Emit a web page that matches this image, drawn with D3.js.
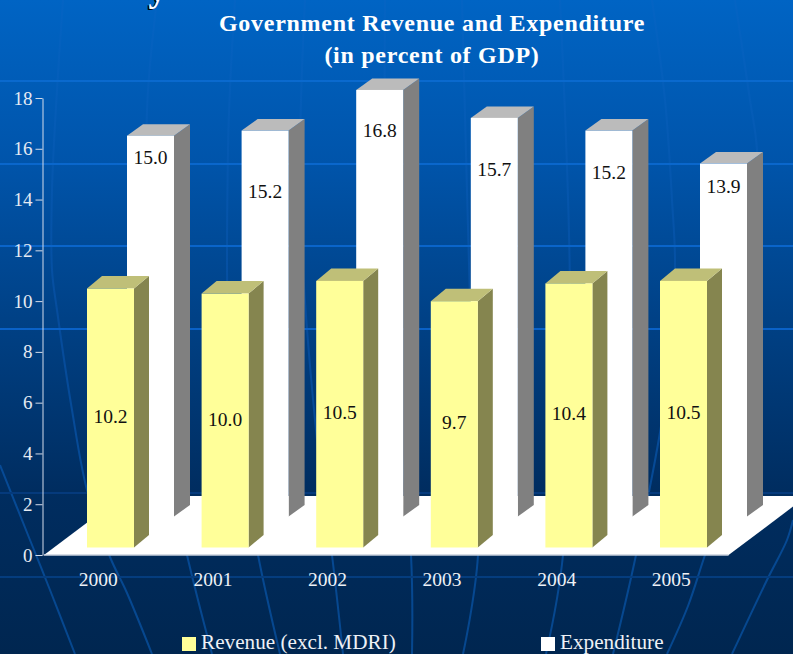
<!DOCTYPE html>
<html>
<head>
<meta charset="utf-8">
<script src="https://cdn.jsdelivr.net/npm/d3@7"></script>
<style>
  html, body { margin: 0; padding: 0; background: #002650; overflow: hidden; }
  text { font-family: "Liberation Serif", serif; }
</style>
</head>
<body>
<div id="chart"></div>
<script>
  const years = ['2000', '2001', '2002', '2003', '2004', '2005']
  const revenue = [10.2, 10.0, 10.5, 9.7, 10.4, 10.5]
  const expenditure = [15.0, 15.2, 16.8, 15.7, 15.2, 13.9]
  const yTicks = [0, 2, 4, 6, 8, 10, 12, 14, 16, 18]
  const titleLines = ['Government Revenue and Expenditure', '(in percent of GDP)']
  const legendLabels = ['Revenue (excl. MDRI)', 'Expenditure']
  // hand placed in the original, pixels below the top of each white bar
  const expLabelDrop = [28, 67, 47, 58, 48, 29]

  const width = 793
  const height = 654
  const BAR_W = 47
  const FLOOR_BACK = 496
  const REV = {dx: 46, lift: 7.5, depthX: 15, depthY: 12.5, front: '#ffff99', side: '#85854f', top: '#bfbf78'}
  const EXP = {dx: 86, lift: 38.5, depthX: 16, depthY: 11.5, front: '#ffffff', side: '#808080', top: '#bbbbbb'}

  const xScale = d3.scaleBand().domain(years).range([41, 728.6])
  const yScale = d3.scaleLinear().domain([0, 18]).range([555, 98])

  const svg = d3.select('#chart')
    .append('svg')
    .attr('width', width)
    .attr('height', height)
    .style('display', 'block')

  const defs = svg.append('defs')

  const bg = defs.append('linearGradient').attr('id', 'bg').attr('x1', 0).attr('x2', 0).attr('y1', 0).attr('y2', 1)
  bg.append('stop').attr('offset', '0%').attr('stop-color', '#0064c4')
  bg.append('stop').attr('offset', '25%').attr('stop-color', '#0054aa')
  bg.append('stop').attr('offset', '50%').attr('stop-color', '#004084')
  bg.append('stop').attr('offset', '75%').attr('stop-color', '#002d60')
  bg.append('stop').attr('offset', '100%').attr('stop-color', '#002650')

  const grid = defs.append('linearGradient').attr('id', 'grid')
    .attr('gradientUnits', 'userSpaceOnUse').attr('x1', 0).attr('x2', 0).attr('y1', 0).attr('y2', height)
  grid.append('stop').attr('offset', '0%').attr('stop-color', '#0a6cd0')
  grid.append('stop').attr('offset', '50%').attr('stop-color', '#0a62c8')
  grid.append('stop').attr('offset', '75%').attr('stop-color', '#053a7c')
  grid.append('stop').attr('offset', '100%').attr('stop-color', '#043f80')

  const merid = defs.append('linearGradient').attr('id', 'merid')
    .attr('gradientUnits', 'userSpaceOnUse').attr('x1', 0).attr('x2', 0).attr('y1', 0).attr('y2', height)
  merid.append('stop').attr('offset', '0%').attr('stop-color', '#0464c4')
  merid.append('stop').attr('offset', '50%').attr('stop-color', '#064c9c')
  merid.append('stop').attr('offset', '100%').attr('stop-color', '#06478e')

  svg.append('rect').attr('width', width).attr('height', height).attr('fill', 'url(#bg)')

  // backdrop: the globe grid of the slide template
  const backdropRows = [81, 164, 246, 329, 493, 577]
  const backdropCurves = [
    [[0, 465], [30, 540], [50, 590], [75, 654]],
    [[63, 0], [57, 90], [52, 190], [52, 270], [57, 310], [72, 410], [87, 490], [110, 557], [127, 593], [152, 654]],
    [[157, 0], [147, 110], [150, 300], [165, 450], [187, 555], [212, 654]],
    [[235, 0], [228, 150], [232, 400], [258, 555], [280, 654]],
    [[305, 0], [300, 200], [318, 450], [332, 555], [343, 654]],
    [[385, 0], [388, 300], [411, 555], [412, 654]],
    [[462, 0], [470, 300], [478, 555], [463, 654]],
    [[560, 0], [570, 300], [563, 555], [546, 654]],
    [[652, 0], [665, 100], [672, 200], [675, 270], [665, 400], [636, 555], [613, 654]],
    [[735, 0], [750, 100], [757, 150], [755, 300], [735, 470], [705, 555], [688, 606], [667, 654]],
    [[793, 520], [787, 540], [767, 580], [732, 654]]
  ]
  const curveLine = d3.line().curve(d3.curveCatmullRom)

  svg.selectAll('path.merid')
    .data(backdropCurves)
    .enter()
    .append('path')
    .attr('class', 'merid')
    .attr('d', curveLine)
    .attr('fill', 'none')
    .attr('stroke', 'url(#merid)')
    .attr('stroke-width', 2)

  svg.selectAll('rect.row')
    .data(backdropRows)
    .enter()
    .append('rect')
    .attr('class', 'row')
    .attr('x', 0).attr('width', width)
    .attr('y', d => d - 1).attr('height', 2)
    .attr('fill', 'url(#grid)')

  // tail of the slide heading, cut off by the top of the page
  svg.append('text').text('y').attr('x', 147).attr('y', 2).attr('font-size', 36).attr('font-weight', 'bold').attr('fill', '#000')
  svg.append('text').text('y').attr('x', 148.5).attr('y', 0.5).attr('font-size', 36).attr('font-weight', 'bold').attr('fill', '#fff')

  svg.selectAll('text.title')
    .data(titleLines)
    .enter()
    .append('text')
    .attr('class', 'title')
    .text(d => d)
    .attr('x', 432)
    .attr('y', (d, i) => 31 + i * 32)
    .attr('text-anchor', 'middle')
    .attr('font-size', 24)
    .attr('font-weight', 'bold')
    .attr('letter-spacing', 0.72)
    .attr('fill', '#fff')

  // floor
  const floorShift = (yScale(0) - FLOOR_BACK) * 1.33
  const [x0, x1] = xScale.range()
  svg.append('path')
    .attr('d', d3.line()([
      [x0 + 3, yScale(0)], [x0 + 3 + floorShift, FLOOR_BACK], [x1 + floorShift, FLOOR_BACK], [x1, yScale(0)]
    ]) + 'Z')
    .attr('fill', '#fff')
  svg.append('line')
    .attr('x1', x0 + 3).attr('x2', x1).attr('y1', yScale(0)).attr('y2', yScale(0))
    .attr('stroke', '#c8d0dc').attr('stroke-width', 1.5)

  const yAxis = d3.axisLeft(yScale).tickValues(yTicks).tickSize(7).tickSizeOuter(0).tickPadding(3)
  const axisG = svg.append('g')
    .attr('transform', 'translate(42.5, 0)')
    .call(yAxis)
  axisG.selectAll('path, line').attr('stroke', '#d4dcea').attr('stroke-width', 1)
  axisG.selectAll('text').attr('font-size', 19).attr('font-family', '"Liberation Serif", serif').attr('fill', '#e6ebf3')

  svg.selectAll('text.year')
    .data(years)
    .enter()
    .append('text')
    .attr('class', 'year')
    .text(d => d)
    .attr('x', d => xScale(d) + xScale.bandwidth() / 2)
    .attr('y', 586)
    .attr('text-anchor', 'middle')
    .attr('font-size', 19.5)
    .attr('fill', '#eef1f6')

  function drawBars (values, style, cls) {
    const g = svg.selectAll('g.' + cls)
      .data(values)
      .enter()
      .append('g')
      .attr('class', cls)
      .attr('transform', (d, i) => `translate(${xScale(years[i]) + style.dx}, 0)`)

    const topY = d => yScale(d) - style.lift
    const baseY = yScale(0) - style.lift
    const dX = style.depthX
    const dY = style.depthY

    g.append('path')
      .attr('d', d => `M${BAR_W},${topY(d)}L${BAR_W + dX},${topY(d) - dY}L${BAR_W + dX},${baseY - dY}L${BAR_W},${baseY}Z`)
      .attr('fill', style.side)
    g.append('path')
      .attr('d', d => `M0,${topY(d)}L${dX},${topY(d) - dY}L${BAR_W + dX},${topY(d) - dY}L${BAR_W},${topY(d)}Z`)
      .attr('fill', style.top)
    g.append('rect')
      .attr('x', 0).attr('width', BAR_W)
      .attr('y', topY)
      .attr('height', d => baseY - topY(d))
      .attr('fill', style.front)
    return g
  }

  const expBars = drawBars(expenditure, EXP, 'exp')
  const revBars = drawBars(revenue, REV, 'rev')

  expBars.append('text')
    .text(d => d.toFixed(1))
    .attr('x', BAR_W / 2)
    .attr('y', (d, i) => yScale(d) - EXP.lift + expLabelDrop[i])
    .attr('text-anchor', 'middle')
    .attr('font-size', 19.5)
    .attr('fill', '#111')

  revBars.append('text')
    .text(d => d.toFixed(1))
    .attr('x', BAR_W / 2)
    .attr('y', d => (yScale(d) + yScale(0)) / 2 - REV.lift + 5)
    .attr('text-anchor', 'middle')
    .attr('font-size', 19.5)
    .attr('fill', '#111')

  const legend = svg.selectAll('g.legend')
    .data(legendLabels)
    .enter()
    .append('g')
    .attr('class', 'legend')
    .attr('transform', (d, i) => `translate(${182 + i * 359}, 637)`)

  legend.append('rect')
    .attr('width', 14).attr('height', 14)
    .attr('fill', (d, i) => i === 0 ? REV.front : EXP.front)

  legend.append('text')
    .text(d => d)
    .attr('x', 19)
    .attr('y', 12)
    .attr('font-size', 21.2)
    .attr('fill', '#eef1f6')
</script>
</body>
</html>
